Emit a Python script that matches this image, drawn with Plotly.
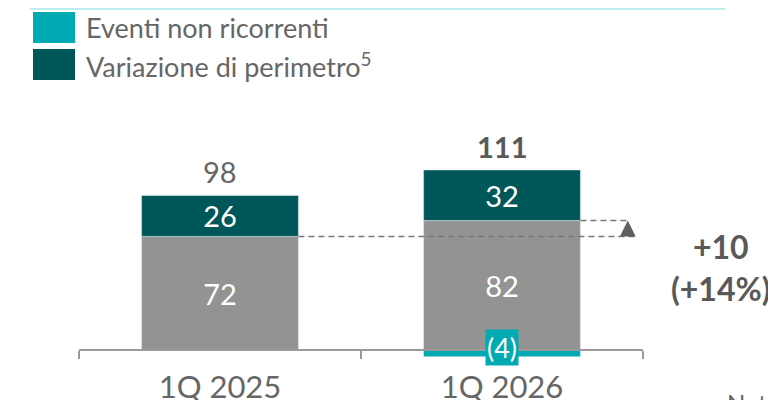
import plotly.graph_objects as go

# --- Data ---
categories = ["1Q 2025", "1Q 2026"]
base_values = [72, 82]             # grey
perimeter_values = [26, 32]        # dark teal
one_off_values = [0, -4]           # teal
totals = [98, 111]
total_bold = [False, True]
series_names = ["Eventi non ricorrenti", "Variazione di perimetro<sup>5</sup>"]

GREY = "#939393"
DARK = "#00575a"
TEAL = "#00aab3"
TEXT = "#666666"
FONT = "Lato"

# page body has an 8px margin, so figure coords = page coords - 8
OFF = 8
W, H = 768, 392
L, R, T, B = 71, 133, 105, 37
PW, PH = W - L - R, H - T - B
Y_RANGE = [-8, 150]
BAR_W = 0.556


def px(x):
    return (x - OFF - L) / PW


def py(y):
    return (H - B - (y - OFF)) / PH


x = list(range(len(categories)))

fig = go.Figure()
fig.add_bar(x=x, y=base_values, marker_color=GREY, width=BAR_W,
            text=[str(v) for v in base_values], textposition="inside", textangle=0,
            insidetextanchor="middle", constraintext="none",
            textfont=dict(color="white", size=29, family=FONT), showlegend=False)
fig.add_bar(x=x, y=perimeter_values, marker_color=DARK, width=BAR_W,
            text=[str(v) for v in perimeter_values], textposition="inside", textangle=0,
            insidetextanchor="middle", constraintext="none",
            textfont=dict(color="white", size=29, family=FONT), showlegend=False)
fig.add_bar(x=x, y=one_off_values, marker_color=TEAL, width=BAR_W,
            showlegend=False, hoverinfo="skip")

# totals above bars
for i, tot in enumerate(totals):
    top = base_values[i] + perimeter_values[i]
    txt = f"<b>{tot}</b>" if total_bold[i] else str(tot)
    fig.add_annotation(x=i, y=top, text=txt, showarrow=False, yanchor="bottom",
                       yshift=4, font=dict(size=29, family=FONT,
                                           color="#595959" if total_bold[i] else TEXT))

# negative one-off label
for i, v in enumerate(one_off_values):
    if v < 0:
        fig.add_annotation(x=i, y=0, text=f"({abs(v)})", showarrow=False,
                           yanchor="middle", yshift=3, bgcolor=TEAL, borderpad=1,
                           font=dict(size=27, family=FONT, color="white"))

# dashed comparison lines and arrow
arrow_x = 1.446
fig.add_shape(type="line", x0=0 + BAR_W / 2, x1=arrow_x + 0.028,
              y0=base_values[0], y1=base_values[0],
              line=dict(color="#777777", width=1.5, dash="6px,4px"))
fig.add_shape(type="line", x0=1 + BAR_W / 2, x1=arrow_x,
              y0=base_values[1], y1=base_values[1],
              line=dict(color="#777777", width=1.5, dash="6px,4px"))
fig.add_shape(type="path", xref="x", yref="y",
              path=f"M {arrow_x - 0.028},{base_values[0]} L {arrow_x + 0.028},{base_values[0]} "
                   f"L {arrow_x},{base_values[1]} Z",
              fillcolor="#5f5f5f", line=dict(width=0))

delta = base_values[1] - base_values[0]
pct = delta / base_values[0] * 100
fig.add_annotation(xref="paper", yref="paper", x=px(720), y=py(267),
                   text=f"<b>+{delta}<br>(+{pct:.0f}%)</b>", showarrow=False,
                   xanchor="center", yanchor="middle",
                   font=dict(size=32, family=FONT, color="#595959"))

# legend drawn by hand
legend_colors = [TEAL, DARK]
legend_rows = [(12, 43), (49, 80)]
for name, col, (y0, y1) in zip(series_names, legend_colors, legend_rows):
    fig.add_shape(type="rect", xref="paper", yref="paper",
                  x0=px(33), x1=px(75), y0=py(y1), y1=py(y0),
                  fillcolor=col, line=dict(width=0))
    fig.add_annotation(xref="paper", yref="paper", x=px(84), y=py((y0 + y1) / 2),
                       text=name, showarrow=False, xanchor="left", yanchor="middle",
                       font=dict(size=27, family=FONT, color=TEXT))

# thin top rule
fig.add_shape(type="line", xref="paper", yref="paper", x0=px(30), x1=px(725),
              y0=py(9), y1=py(9), line=dict(color="#bfeced", width=2))

fig.add_annotation(xref="paper", yref="paper", x=px(725), y=py(386), text="Note",
                   showarrow=False, xanchor="left", yanchor="top",
                   font=dict(size=24, family=FONT, color=TEXT))

fig.update_layout(
    width=W, height=H,
    margin=dict(l=L, r=R, t=T, b=B, autoexpand=False),
    barmode="relative",
    plot_bgcolor="white", paper_bgcolor="white",
    font=dict(family=FONT, color=TEXT),
    showlegend=False,
    xaxis=dict(range=[-0.5, 1.5], tickvals=x, ticktext=categories,
               ticks="outside", ticklen=8, tickcolor="rgba(0,0,0,0)",
               ticklabelstandoff=2, automargin=False,
               tickfont=dict(size=31, family=FONT, color=TEXT),
               showline=True, linecolor="#9a9a9a", linewidth=1.5,
               showgrid=False, zeroline=False,
               anchor="free", position=(0 - Y_RANGE[0]) / (Y_RANGE[1] - Y_RANGE[0]),
               minor=dict(tickvals=[-0.5, 0.5, 1.5], ticks="outside", ticklen=8,
                          tickcolor="#9a9a9a", tickwidth=1.5, showgrid=False)),
    yaxis=dict(range=Y_RANGE, visible=False, showgrid=False, zeroline=False,
               automargin=False),
)

fig.write_html("out.html")
